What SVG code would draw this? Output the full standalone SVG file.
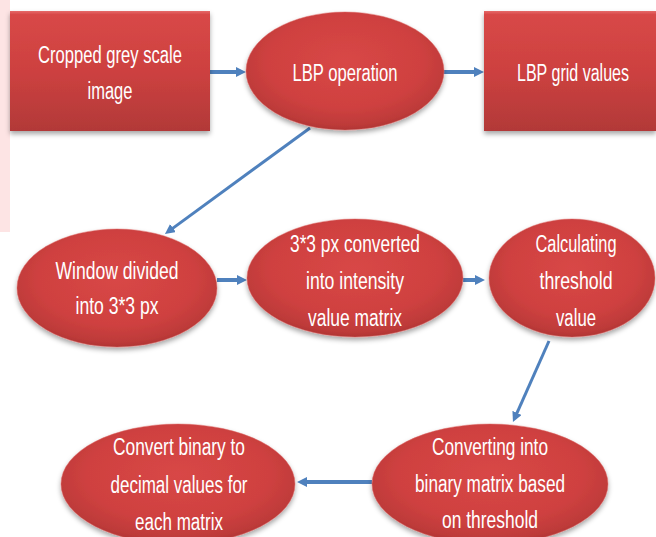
<svg xmlns="http://www.w3.org/2000/svg" width="656" height="537" viewBox="0 0 656 537">
<defs>
<style>
.t{font-family:"Liberation Sans",Arial,sans-serif;font-size:23px;fill:#ffffff;text-anchor:middle}
.c{stroke:#4f81bd;stroke-width:4;fill:none;marker-end:url(#ah)}
.c3{stroke:#4f81bd;stroke-width:3;fill:none;marker-end:url(#ah)}
.r{fill:url(#rg);filter:url(#sh)}
.e{fill:url(#eg);filter:url(#sh);stroke:#e06a68;stroke-width:0.8;stroke-opacity:0.6}
</style>
<linearGradient id="rg" x1="0" y1="0" x2="0" y2="1">
<stop offset="0" stop-color="#e66a69"/>
<stop offset="0.03" stop-color="#d84847"/>
<stop offset="0.5" stop-color="#cd4140"/>
<stop offset="1" stop-color="#b23938"/>
</linearGradient>
<radialGradient id="eg" cx="0.5" cy="0.42" r="0.6">
<stop offset="0" stop-color="#d84746"/>
<stop offset="0.65" stop-color="#cf4140"/>
<stop offset="0.9" stop-color="#bd3a39"/>
<stop offset="1" stop-color="#a93231"/>
</radialGradient>
<filter id="sh" x="-10%" y="-10%" width="120%" height="130%">
<feDropShadow dx="0" dy="3" stdDeviation="2.5" flood-color="#000" flood-opacity="0.35"/>
</filter>
<marker id="ah" viewBox="0 0 10 10" refX="3" refY="5" markerWidth="10" markerHeight="10" markerUnits="userSpaceOnUse" orient="auto">
<path d="M0,0 L10,5 L0,10 z" fill="#4f81bd"/>
</marker>
</defs>
<rect x="0" y="0" width="656" height="537" fill="#ffffff"/>
<rect x="0" y="0" width="10" height="232" fill="#fde4e4"/>
<g id="connectors">
<line class="c" x1="210" y1="72" x2="239" y2="72"/>
<line class="c" x1="443" y1="72" x2="477" y2="72"/>
<line class="c3" x1="310" y1="128" x2="170.6" y2="229.9"/>
<line class="c" x1="217" y1="280" x2="240" y2="280"/>
<line class="c" x1="463" y1="280" x2="478" y2="280"/>
<line class="c3" x1="549" y1="341" x2="515.8" y2="415.6"/>
<line class="c" x1="372" y1="482" x2="304" y2="482"/>
</g>
<g id="n1">
<rect class="r" x="10" y="11" width="200" height="120"/>
<text class="t" x="110" y="63" textLength="144" lengthAdjust="spacingAndGlyphs">Cropped grey scale</text>
<text class="t" x="110" y="99" textLength="45" lengthAdjust="spacingAndGlyphs">image</text>
</g>
<g id="n2">
<ellipse class="e" cx="345" cy="71" rx="99" ry="59"/>
<text class="t" x="345" y="81" textLength="105" lengthAdjust="spacingAndGlyphs">LBP operation</text>
</g>
<g id="n3">
<rect class="r" x="484" y="11" width="172" height="120"/>
<text class="t" x="573" y="81" textLength="112" lengthAdjust="spacingAndGlyphs">LBP grid values</text>
</g>
<g id="n4">
<ellipse class="e" cx="117" cy="288" rx="100" ry="59"/>
<text class="t" x="117" y="279" textLength="123" lengthAdjust="spacingAndGlyphs">Window divided</text>
<text class="t" x="117" y="314" textLength="83" lengthAdjust="spacingAndGlyphs">into 3*3 px</text>
</g>
<g id="n5">
<ellipse class="e" cx="355" cy="278" rx="108" ry="59"/>
<text class="t" x="355" y="252" textLength="130" lengthAdjust="spacingAndGlyphs">3*3 px converted</text>
<text class="t" x="355" y="289" textLength="98" lengthAdjust="spacingAndGlyphs">into intensity</text>
<text class="t" x="355" y="326" textLength="94" lengthAdjust="spacingAndGlyphs">value matrix</text>
</g>
<g id="n6">
<ellipse class="e" cx="572" cy="278" rx="83" ry="59"/>
<text class="t" x="576" y="252" textLength="81" lengthAdjust="spacingAndGlyphs">Calculating</text>
<text class="t" x="576" y="289" textLength="73" lengthAdjust="spacingAndGlyphs">threshold</text>
<text class="t" x="576" y="326" textLength="40" lengthAdjust="spacingAndGlyphs">value</text>
</g>
<g id="n7">
<ellipse class="e" cx="490" cy="484" rx="118" ry="60"/>
<text class="t" x="490" y="455" textLength="116" lengthAdjust="spacingAndGlyphs">Converting into</text>
<text class="t" x="490" y="492" textLength="150" lengthAdjust="spacingAndGlyphs">binary matrix based</text>
<text class="t" x="490" y="528" textLength="96" lengthAdjust="spacingAndGlyphs">on threshold</text>
</g>
<g id="n8">
<ellipse class="e" cx="178" cy="484" rx="117" ry="60"/>
<text class="t" x="179" y="455" textLength="132" lengthAdjust="spacingAndGlyphs">Convert binary to</text>
<text class="t" x="179" y="493" textLength="137" lengthAdjust="spacingAndGlyphs">decimal values for</text>
<text class="t" x="179" y="530" textLength="88" lengthAdjust="spacingAndGlyphs">each matrix</text>
</g>
</svg>
